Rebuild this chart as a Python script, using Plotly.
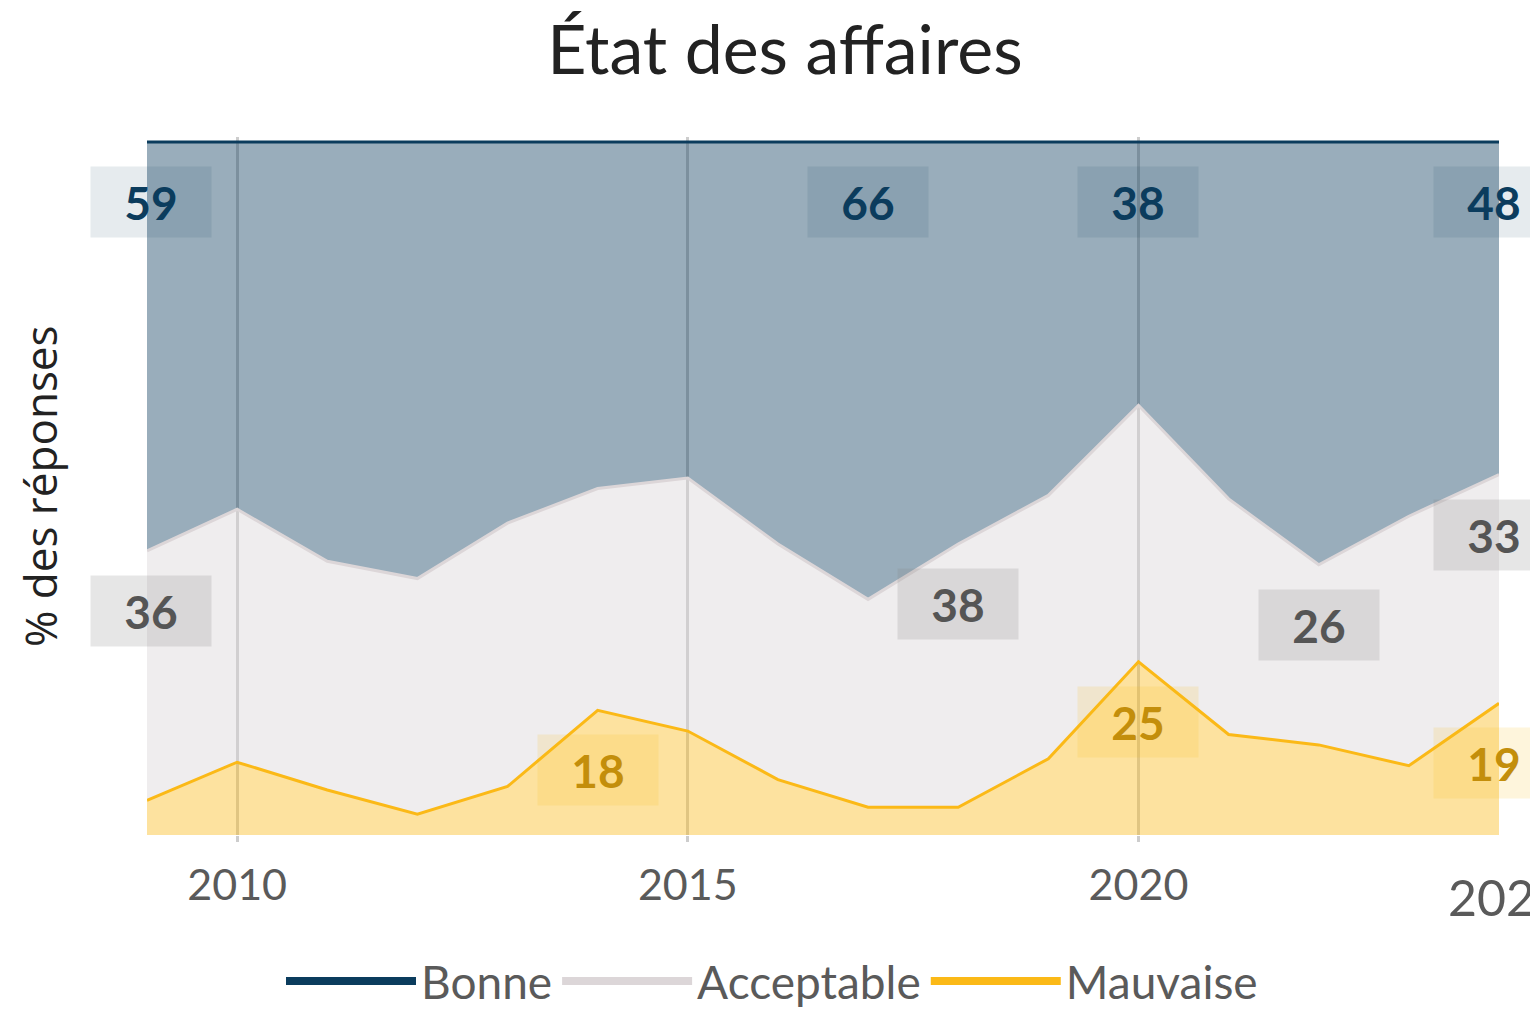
import plotly.graph_objects as go

years = list(range(2009, 2025))
mauvaise = [5, 10.5, 6.5, 3, 7, 18, 15, 8, 4, 4, 11, 25, 14.5, 13, 10, 19]
acceptable = [36, 36.5, 33, 34, 38, 32, 36.5, 34, 30, 38, 38, 37, 34, 26, 36, 33]
bonne = [59, 53, 60.5, 63, 55, 50, 48.5, 58, 66, 58, 51, 38, 51.5, 61, 54, 48]

series_names = ["Bonne", "Acceptable", "Mauvaise"]
label_years_bonne = [2009, 2017, 2020, 2024]
label_years_acceptable = [2009, 2018, 2022, 2024]
label_years_mauvaise = [2014, 2020, 2024]
tick_years = [2010, 2015, 2020]

C_BONNE = "#0b3c5d"
C_ACC = "#dcd6d8"
C_MAUV = "#fbb917"
FONT = "Lato"

# the page body has an 8px margin: figure is placed at (8, 8)
W, H = 1530, 1001
ML, MR, MT, MB = 139, 39, 129, 174
PLOT_H = H - MT - MB

fig = go.Figure()

# stacked areas (bottom to top)
fig.add_trace(go.Scatter(x=years, y=mauvaise, stackgroup="one", mode="lines",
                         line=dict(color=C_MAUV, width=3),
                         fillcolor="rgba(251,187,27,0.42)", showlegend=False, name="Mauvaise"))
fig.add_trace(go.Scatter(x=years, y=acceptable, stackgroup="one", mode="lines",
                         line=dict(color=C_ACC, width=3),
                         fillcolor="rgba(216,210,213,0.4)", showlegend=False, name="Acceptable"))
fig.add_trace(go.Scatter(x=years, y=bonne, stackgroup="one", mode="lines",
                         line=dict(color=C_BONNE, width=3),
                         fillcolor="rgba(13,59,94,0.42)", showlegend=False, name="Bonne"))

# legend entries
for name, col in zip(series_names, [C_BONNE, C_ACC, C_MAUV]):
    fig.add_trace(go.Scatter(x=[None], y=[None], mode="lines", name=name,
                             line=dict(color=col, width=8)))

cum_m = mauvaise
cum_a = [m + a for m, a in zip(mauvaise, acceptable)]
cum_b = [m + a + b for m, a, b in zip(mauvaise, acceptable, bonne)]

def add_labels(label_years, values, cum, bg, fg):
    for yr in label_years:
        i = years.index(yr)
        xs = 0
        if yr == years[0]:
            xs = 4
        elif yr == years[-1]:
            xs = -5
        fig.add_annotation(x=yr, y=cum[i], xref="x", yref="y",
                           text=f"{values[i]:g}", showarrow=False,
                           xanchor="center", yanchor="middle", yshift=-60, xshift=xs,
                           width=106, height=56, borderpad=7, bgcolor=bg,
                           font=dict(family=FONT, size=46, color=fg, weight="bold"))

add_labels(label_years_bonne, bonne, cum_b, "rgba(11,60,93,0.1)", C_BONNE)
add_labels(label_years_acceptable, acceptable, cum_a, "rgba(128,128,128,0.2)", "#555555")
add_labels(label_years_mauvaise, mauvaise, cum_m, "rgba(251,185,23,0.15)", "#c38e0b")

# last year tick label
fig.add_annotation(x=years[-1], y=0, xref="x", yref="y", text=str(years[-1]),
                   showarrow=False, xanchor="center", yanchor="middle",
                   yshift=-62, xshift=7,
                   font=dict(family=FONT, size=50, color="#5a5a5a"))

# y axis title
fig.add_annotation(x=0, y=0.5, xref="paper", yref="paper", text="% des réponses",
                   showarrow=False, textangle=-90, xanchor="center", yanchor="middle",
                   xshift=-107,
                   font=dict(family="Open Sans", size=44, color="#222222"))

fig.update_layout(
    width=W, height=H,
    margin=dict(l=ML, r=MR, t=MT, b=MB, autoexpand=False),
    paper_bgcolor="white", plot_bgcolor="white",
    title=dict(text="État des affaires", x=777 / W, xref="container", xanchor="center",
               y=1 - 42 / H, yref="container", yanchor="middle",
               font=dict(family=FONT, size=68, color="#222222")),
    legend=dict(orientation="h", x=764 / W, xanchor="center", xref="container",
                y=-(973 - (H - MB)) / PLOT_H, yref="paper", yanchor="middle",
                font=dict(family=FONT, size=46, color="#5a5a5a"),
                itemwidth=130, traceorder="normal"),
    xaxis=dict(range=[years[0], years[-1]], tickvals=tick_years, showgrid=True,
               gridcolor="rgb(205,205,205)", gridwidth=3, zeroline=False,
               showline=False, ticks="outside", ticklen=6, tickwidth=3,
               tickcolor="rgb(205,205,205)", ticklabelstandoff=6,
               tickfont=dict(family=FONT, size=43, color="#5a5a5a")),
    yaxis=dict(range=[0, 100.72], showgrid=False, zeroline=False, showticklabels=False,
               showline=False),
)

fig.write_html("out.html")
